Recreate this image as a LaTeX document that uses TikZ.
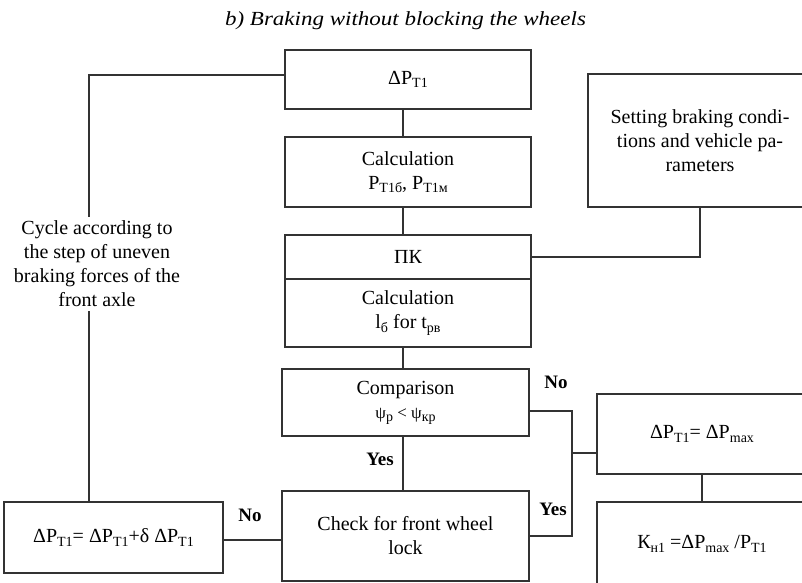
\documentclass[tikz,border=0pt]{standalone}
\usepackage{fontspec}
\setmainfont{Liberation Serif}
\newcommand\lo[1]{\raisebox{-0.35ex}{\fontsize{14}{14}\selectfont #1}}
\begin{document}
\begin{tikzpicture}[x=1pt,y=-1pt,
  box/.style={draw=black!80, line width=1.1pt, inner sep=0pt, align=center, font=\fontsize{20}{24}\selectfont},
  wire/.style={draw=black!80, line width=1.1pt},
  lab/.style={font=\fontsize{19}{22}\selectfont\bfseries, inner sep=0pt},
  plain/.style={align=center, font=\fontsize{20}{24}\selectfont, inner sep=4pt}]
\useasboundingbox (0,0) rectangle (802,582);
\clip (0,0) rectangle (802,582);

\node[anchor=base] (title) at (405.5,25) {\fontsize{20}{24}\selectfont\scalebox{1.15}[1]{\itshape b) Braking without blocking the wheels}};

\node[box, minimum width=246pt, minimum height=59pt] (d1) at (408,79.5) {ΔP\lo{Т1}};
\node[box, minimum width=246pt, minimum height=70pt] (calc1) at (408,172) {Calculation\\P\lo{Т1б}, P\lo{Т1м}};
\node[box, minimum width=246pt, minimum height=44pt] (pk) at (408,257) {ПК};
\node[box, minimum width=246pt, minimum height=68pt] (calc2) at (408,313) {Calculation\\l\lo{б} for t\lo{рв}};
\node[box, minimum width=247pt, minimum height=67pt] (comp) at (405.5,402.5) {Comparison\\{\fontsize{17}{20}\selectfont ψ\lo{р} < ψ\lo{кр}}};
\node[box, minimum width=247pt, minimum height=90pt] (check) at (405.5,536) {Check for front wheel\\lock};
\node[box, minimum width=224pt, minimum height=133pt] (set) at (700,140.5) {Setting braking condi-\\tions and vehicle pa-\\rameters};
\node[box, minimum width=210pt, minimum height=80pt] (dmax) at (702,434) {ΔP\lo{Т1}= ΔP\lo{max}};
\node[box, minimum width=210pt, minimum height=84pt] (kbox) at (702,544) {К\lo{н1} =ΔP\lo{max} /P\lo{Т1}};
\node[box, minimum width=219pt, minimum height=71pt] (left) at (113.5,537.5) {ΔP\lo{Т1}= ΔP\lo{Т1}+δ ΔP\lo{Т1}};

\node[plain] (cyc) at (97,264) {Cycle according to\\the step of uneven\\braking forces of the\\front axle};

\coordinate (xl) at (403,0);
\draw[wire] (d1.south -| xl) -- (calc1.north -| xl);
\draw[wire] (calc1.south -| xl) -- (pk.north -| xl);
\draw[wire] (calc2.south -| xl) -- (comp.north -| xl);
\draw[wire] (comp.south -| xl) -- (check.north -| xl);

\coordinate (lp) at (89,75);
\draw[wire] (d1.west |- lp) -- (lp) -- (lp |- cyc.north);
\draw[wire] (lp |- cyc.south) -- (lp |- left.north);

\draw[wire] (set.south) -- (set.south |- pk.east) -- (pk.east);

\coordinate (cx) at (572,411);
\draw[wire] (comp.east |- cx) -- (cx) -- (cx |- check.east) -- (check.east);
\coordinate (br) at (572,453);
\draw[wire] (br) -- (dmax.west |- br);
\draw[wire] (dmax) -- (kbox);

\coordinate (cl) at (0,540);
\draw[wire] (check.west |- cl) -- (left.east |- cl);

\node[lab] (no1) at (556,382) {No};
\node[lab] (yes1) at (380,459) {Yes};
\node[lab] (yes2) at (553,509) {Yes};
\node[lab] (no2) at (250,515) {No};
\end{tikzpicture}
\end{document}
